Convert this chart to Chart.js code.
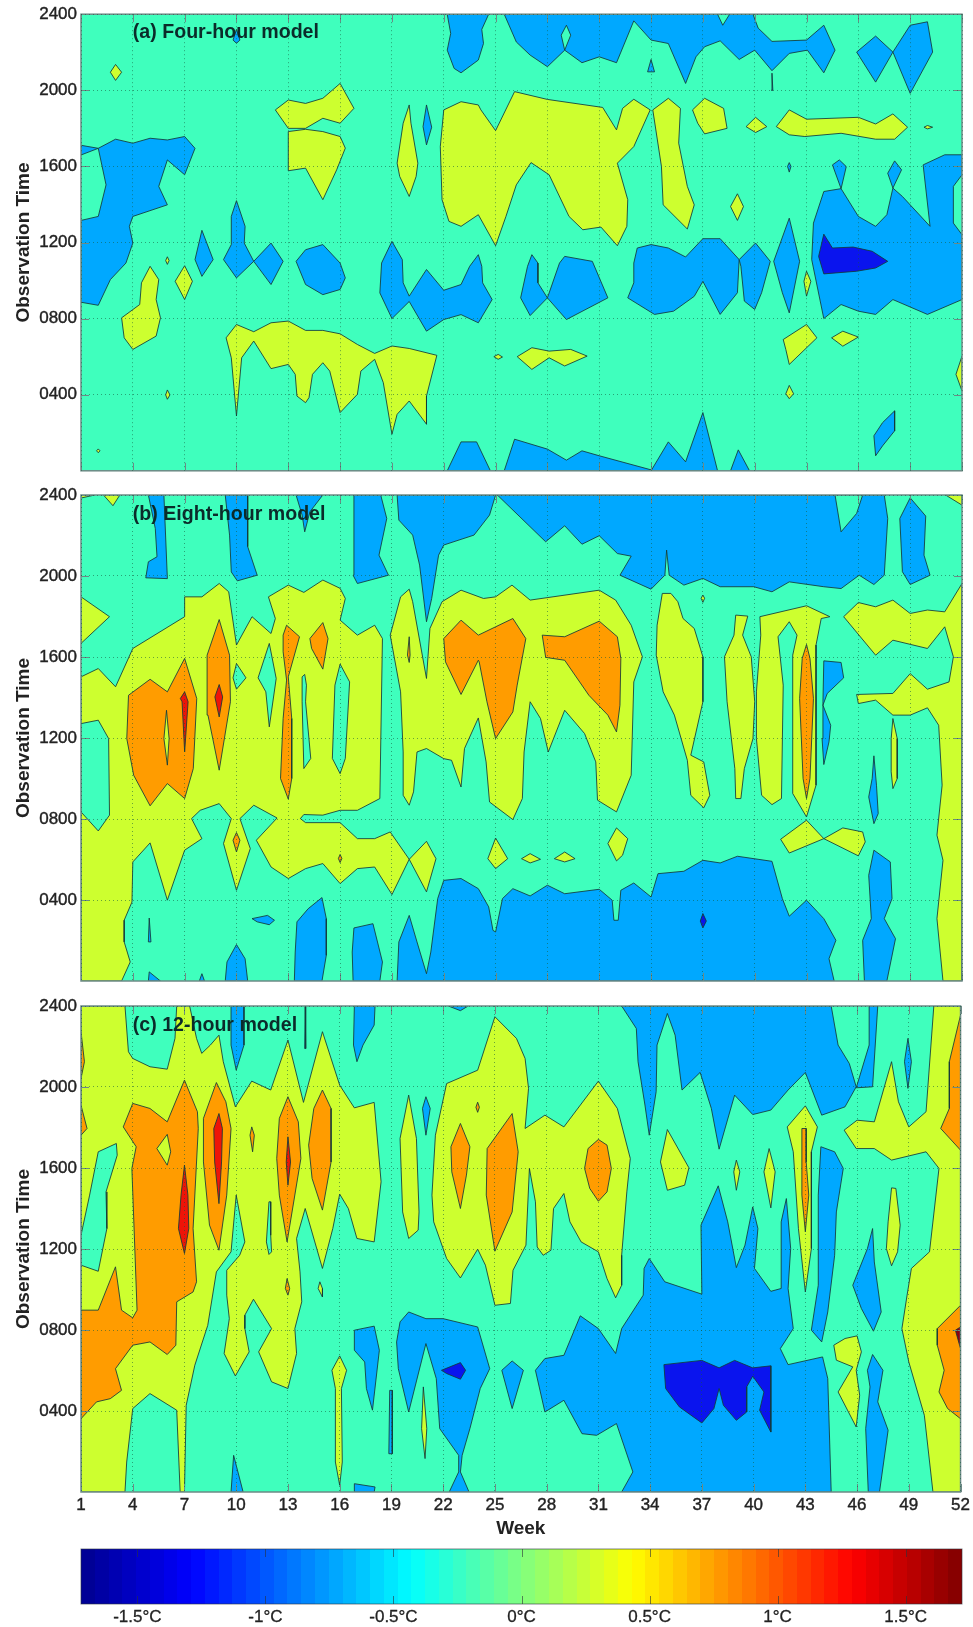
<!DOCTYPE html>
<html>
<head>
<meta charset="utf-8">
<title>Observation time by week</title>
<script src="https://cdn.jsdelivr.net/npm/chart.js@4/dist/chart.umd.js"></script>
<style>
  body { margin: 0; background: #fff; }
  #page { position: relative; width: 973px; height: 1627px; overflow: hidden; }
  canvas { position: absolute; left: 0; }
</style>
</head>
<body>
<div id="page">
  <canvas id="panelA" width="973" height="485" style="top:0"></canvas>
  <canvas id="panelB" width="973" height="518" style="top:478px"></canvas>
  <canvas id="panelC" width="973" height="550" style="top:990px"></canvas>
  <canvas id="colorBar" width="973" height="87" style="top:1540px"></canvas>
</div>
<script>
const weekTicks = [1, 4, 7, 10, 13, 16, 19, 22, 25, 28, 31, 34, 37, 40, 43, 46, 49, 52];
const timeTicks = [400, 800, 1200, 1600, 2000, 2400];
const barTicks = [-1.5, -1, -0.5, 0, 0.5, 1, 1.5];
const barRange = [-1.72, 1.72];

// contour outlines, each one flat: week, time, week, time ...
const aBlue = [
  [1,1711, 2,1695, 1,1660],
  [2,1695, 3,1743, 4,1722, 5,1748, 6,1739, 7,1757, 7.6,1695, 7,1556, 6,1634, 5.5,1495, 6,1398, 4,1337, 3.8,1285, 4,1197, 3.6,1092, 2.7,1005, 2,870, 1,886, 1,1316, 2,1337, 2.45,1503],
  [8,1264, 8.65,1110, 8,1022, 7.6,1110],
  [10,1420, 10.5,1285, 10.45,1197, 11,1101, 10,1014, 9.25,1110, 9.7,1189, 9.7,1337],
  [11,1101, 12,1197, 12.7,1101, 12,979],
  [13.45,1101, 14,1162, 15,1189, 16,1092, 16.3,1014, 16,953, 15,926, 14,979],
  [19,1206, 19.6,1110, 19.65,988, 20,918, 21,1058, 22,949, 23,979, 23.5,1075, 24,1136, 24.2,1075, 24.25,988, 24.8,900, 24,778, 23,821, 22,795, 21,734, 20,890, 19,800, 18.3,935, 18.4,1092],
  [22.2,2400, 22.4,2299, 22.2,2211, 22.6,2115, 23,2092, 24,2159, 24.3,2246, 24.2,2320, 24.6,2400],
  [25.5,2400, 26.2,2254, 27,2185, 28,2124, 29,2211, 30,2145, 31,2176, 32,2145, 33,2365, 34,2264, 35,2246, 36,2036, 36.6,2176, 37.1,2229, 38,2260, 39.1,2162, 40,2211, 41,2103, 42,2194, 43.05,2211, 44,2092, 44.65,2211, 44,2342, 43,2264, 41,2257, 40.2,2327, 39.9,2400],
  [45.9,2201, 47,2285, 48,2201, 47,2043],
  [48,2201, 49,2342, 50,2360, 50.3,2201, 49,1984],
  [34,2162, 34.2,2097, 33.8,2097],
  [41,2090, 41.05,2000, 40.97,2000],
  [45,1483, 44,1468, 43.4,1302, 43.3,1110, 44,800, 45,874, 46,839, 47,822, 48,900, 50,822, 52,900, 52,1241, 51.5,1302, 51.5,1495, 52,1556, 52,1661, 51,1661, 49.75,1608, 50.15,1285, 48.55,1442, 48,1486, 47.65,1346, 47,1285, 46,1337],
  [44.5,1608, 44.9,1634, 45.3,1599, 45,1483],
  [47.7,1564, 48.1,1629, 48.5,1582, 48,1486],
  [33,1092, 33.2,1171, 34,1189, 35,1171, 36,1124, 37,1220, 38,1220, 39.1,1110, 39,936, 38,822, 37,996, 36.5,917, 35.3,839, 34.2,822, 32.65,909, 33,988],
  [39.1,1110, 40.05,1197, 40.9,1101, 40.4,936, 40,848, 39.4,892, 39.2,1075],
  [42,1328, 42.6,1101, 42,830, 41.6,936, 41.1,1101],
  [27.1,1136, 27.45,1092, 27.45,988, 28,909, 27,816, 26.45,909, 26.85,1075],
  [28,909, 28.7,1092, 29,1127, 30.6,1101, 31.5,909, 29.1,795],
  [22.2,0, 23,152, 23.9,152, 24.7,0],
  [25.5,0, 26.1,166, 28,114, 29.1,56, 30,105, 31,79, 34,5, 34,0],
  [34,0, 35,152, 36,47, 37,306, 37.85,0],
  [38.6,0, 39.05,110, 39.7,0],
  [47,79, 46.9,184, 47.4,253, 48.1,315, 48.1,210, 47.4,131],
  [10,2320, 10.2,2264, 10,2247, 9.8,2264],
  [21,1923, 21.3,1806, 21,1713, 20.8,1809],
  [42,1620, 42.1,1600, 42,1570, 41.9,1600]
];
const aYellow = [
  [3,2136, 3.35,2095, 3,2052, 2.7,2095],
  [5,1075, 5.5,1005, 5.35,900, 5.6,804, 5.35,708, 4,638, 3.5,699, 3.35,804, 4.4,874, 4.5,988],
  [7,1078, 7.45,996, 7,900, 6.45,996],
  [9.4,699, 10,769, 11,731, 12,778, 13,787, 14,738, 15,738, 16,720, 17,664, 18,617, 19,656, 20,643, 21.6,607, 21,393, 21,245, 20,367, 19.3,297, 19,192, 18.5,463, 18,586, 17.2,524, 17,402, 16,306, 15.4,524, 15,568, 14.4,507, 14.2,385, 14,358, 13.5,393, 13.4,507, 13,559, 12,537, 11,682, 10.3,594, 10,288, 9.7,594],
  [12.25,1897, 13,1949, 14,1931, 15,1958, 16,2036, 16.8,1905, 16,1827, 15,1853, 14,1800, 13,1800],
  [13,1783, 14,1795, 15,1783, 16,1757, 16.3,1696, 15.8,1582, 15,1425, 14,1591, 13,1577],
  [20,1923, 20.1,1827, 20.5,1617, 20.4,1547, 20,1442, 19.45,1547, 19.3,1617, 19.65,1827],
  [22,1897, 23,1940, 24,1923, 24.15,1897, 25,1788, 26.1,1993, 28,1952, 31.2,1910, 32,1792, 32.35,1905, 33,1953, 33.95,1897, 33,1704, 32.05,1617, 32.65,1425, 32.6,1285, 32.05,1183, 31.1,1281, 30.05,1267, 29.25,1337, 28.1,1556, 27.05,1620, 26.2,1503, 25.6,1337, 25,1183, 24,1346, 23,1285, 22.3,1311, 21.9,1425, 21.8,1704],
  [34.1,1897, 35,1958, 35.7,1905, 35.6,1722, 36.1,1495, 36.5,1398, 36.1,1271, 34.7,1398, 34.6,1600],
  [36.4,1897, 37.1,1958, 38.2,1905, 38.4,1800, 37.1,1771, 36.7,1827],
  [39.5,1809, 40.05,1858, 40.7,1809, 40.05,1778],
  [41.25,1809, 42,1897, 43,1848, 46,1858, 47,1823, 48,1876, 48.85,1806, 48.1,1743, 47,1743, 45,1774, 42.9,1757, 42,1766],
  [49.8,1806, 50,1815, 50.3,1806, 50,1797],
  [39,1456, 39.35,1389, 39,1316, 38.6,1389],
  [41.65,690, 43,769, 43.6,699, 42,559, 41.8,638],
  [44.45,699, 45.1,734, 46,703, 45.1,655],
  [41.8,405, 42,449, 42.25,405, 42,379],
  [26.25,600, 27.1,647, 28.1,629, 29.35,638, 30.3,603, 29,551, 28.1,594, 27.1,533],
  [24.9,600, 25.15,612, 25.4,598, 25.15,586],
  [52,603, 51.65,507, 52,420],
  [43,1049, 43.25,996, 43,918, 42.85,996],
  [6,425, 6.15,399, 6,376, 5.9,399],
  [6,1125, 6.1,1105, 6,1085, 5.9,1105],
  [2,115, 2.1,105, 2,95, 1.9,105]
];
const aGreen = [
  [37.85,2400, 38.15,2342, 38.55,2400],
  [29.1,2342, 29.35,2290, 29,2211, 28.8,2290]
];
const aDeep = [
  [44,1244, 44.5,1171, 45.7,1176, 46.8,1154, 47.7,1101, 47,1066, 45.9,1049, 44,1035, 43.7,1127]
];

const bBlue = [
  [4.9,2400, 5.8,2400, 6,1987, 4.75,1991, 4.9,2070, 5.4,2095, 5.3,2235],
  [9.35,2400, 10.65,2400, 10.65,2145, 11.2,2004, 10.05,1976, 9.7,2020, 9.6,2202],
  [13.45,2400, 15,2400, 14.25,2317, 13.95,2218, 13.8,2301],
  [16.8,2400, 18.35,2400, 18.7,2284, 18.25,2103, 18.8,2004, 17,1963, 16.75,2004],
  [19.3,2400, 19.4,2276, 20.2,2202, 20.6,2054, 21,1774, 21.3,1889, 21.7,2103, 22,2153, 23.75,2202, 24.65,2301, 25,2400],
  [25.1,2400, 27.9,2169, 29,2248, 30,2157, 31,2199, 32.05,2111, 32.85,2098, 32.2,2004, 34,1935, 34.8,2004, 34.9,2128, 35.05,2004, 35.9,1955, 37,1988, 38,1947, 39.95,1947, 41,1922, 42,1971, 44,1947, 45,1938, 46.05,2004, 46.9,1958, 47.5,2004, 47.7,2284, 47.5,2400],
  [49,2386, 49.9,2296, 49.8,2103, 50.15,2004, 49,1958, 48.55,2021, 48.4,2284],
  [44,1581, 45,1573, 45.15,1497, 44.2,1420, 43.95,1362, 44.4,1263, 44.3,1181, 44,1069, 43.9,1197, 43.95,1379],
  [46.9,1112, 47.05,967, 47.15,827, 46.9,777, 46.6,909, 46.8,1000],
  [19.3,0, 19.4,193, 20,324, 20.45,193, 21,36, 21.25,143, 21.65,407, 22,497, 23,506, 24,456, 24.6,366, 24.85,250, 25,242, 25.4,407, 26,456, 27,420, 28,473, 29,431, 31,453, 31.75,399, 31.85,300, 32.1,300, 32.25,448, 33,484, 34,415, 34.4,530, 35.9,542, 37,596, 38,583, 39,616, 41,591, 41.6,407, 42,320, 43,399, 44,308, 44.7,201, 44.3,110, 44.6,0],
  [16.8,262, 17.9,283, 18.45,94, 18.3,0, 16.75,0, 16.7,143],
  [13.5,292, 14.15,357, 14.95,412, 15.2,308, 15.2,127, 14.95,0, 13.35,0, 13.4,143],
  [10,180, 10.5,110, 10.65,0, 9.35,0, 9.45,94],
  [10.9,308, 11.8,324, 12.2,300, 11.9,278, 11.2,292],
  [4.95,311, 5.05,193, 4.9,193],
  [4.95,45, 5.6,0, 4.9,0],
  [8,36, 8.15,0, 7.85,0],
  [46.9,646, 47.85,588, 47.95,407, 47.5,308, 48.15,209, 47.65,0, 46.35,0, 46.25,201, 46.75,308, 46.6,522]
];
const bYellow = [
  [1,1502, 2,1543, 3,1453, 4,1642, 7,1799, 7,1897, 8,1897, 9,1963, 9.55,1922, 10,1659, 10.9,1799, 12,1716, 12.25,1790, 11.85,1897, 13,1955, 13.9,1919, 15,1980, 16,1939, 16.3,1889, 16,1782, 17,1708, 18,1757, 18.45,1691, 18.3,901, 17,843, 16,843, 15,819, 13.9,822, 13.7,802, 14,782, 16,782, 17,703, 18,703, 18.9,736, 20,601, 21,690, 21.55,604, 21,440, 20,601, 19,427, 18,563, 17,555, 16,481, 15,580, 14,555, 13,506, 12,563, 11.15,695, 12.35,805, 11,868, 10.2,802, 10.8,654, 10,448, 9.25,679, 9.7,802, 9,876, 7.9,843, 7.4,802, 8,703, 7,646, 6,399, 5,682, 4,588, 3.95,390, 3.5,300, 3.5,193, 3.85,94, 3.35,0, 1,0],
  [1,1897, 2.65,1799, 1,1667],
  [2.3,2400, 2.85,2347, 3.25,2400],
  [1,2385, 1.8,2400, 1,2400],
  [18.9,1708, 19.5,1897, 20,1935, 20.2,1873, 21,1494, 21.2,1741, 21.9,1873, 23,1930, 24.3,1889, 25,1897, 25.95,1955, 27,1881, 31,1930, 31.95,1881, 32.85,1757, 33.5,1601, 33,1477, 32.85,1016, 32,835, 30.9,893, 30.8,1082, 30.15,1222, 29,1337, 28.05,1131, 27.6,1296, 27,1379, 26.65,1131, 26.55,901, 26,797, 24.65,884, 24.45,1082, 24,1299, 23.2,1148, 23,958, 22.45,1090, 22,1098, 21,1148, 20.45,1131, 20.25,934, 20,868, 19.65,917, 19.65,1131, 19.5,1428],
  [34.65,1914, 35.15,1914, 35.55,1873, 35.85,1790, 36.5,1741, 37,1601, 37,1379, 36.3,1115, 37.05,1082, 37.4,917, 37.05,855, 36.3,917, 36.1,1090, 35.35,1313, 34.7,1428, 34.3,1609, 34.35,1757],
  [38.9,1807, 39.6,1802, 39.3,1708, 39.8,1601, 40,1379, 39.9,1197, 39.4,1049, 39.2,901, 38.9,901, 38.85,1049, 38.4,1379, 38.25,1601, 38.8,1708],
  [40.3,1799, 43,1853, 44.35,1799, 43.85,1790, 43.55,1659, 43.55,967, 43,810, 42.2,926, 42.2,1609, 42.45,1708, 42,1774, 41.35,1700, 41.65,1461, 41.55,901, 41,871, 40.4,917, 40.1,1197, 40.1,1428, 40.35,1708],
  [41.5,700, 43,794, 44,703, 42,632],
  [44,703, 45.1,756, 46.25,736, 46.4,687, 46,618],
  [25,706, 25.7,604, 25,555, 24.55,604],
  [26.5,604, 27,629, 27.6,601, 27,583],
  [28.4,604, 29,637, 29.6,604, 29,588],
  [32,756, 32.65,703, 32.35,621, 32,593, 31.5,679],
  [45.15,1799, 46,1869, 47,1848, 48,1881, 49,1815, 50,1832, 51,1823, 52,1963, 52,0, 50.9,0, 50.55,308, 50.9,596, 50.55,720, 50.85,967, 50.65,1263, 50,1349, 49,1313, 48,1313, 47,1387, 46,1370, 45.9,1415, 48,1420, 49,1518, 50,1441, 51.25,1477, 51.5,1601, 51,1749, 50,1642, 48,1683, 47,1609],
  [51.05,2400, 52,2350, 52,2400],
  [48,1296, 48.25,1197, 48.25,1000, 48,950, 47.9,1033, 47.9,1197],
  [37,1906, 37.1,1890, 37,1870, 36.9,1890]
];
const bGreen = [
  [1,1271, 2,1288, 2.6,1197, 2.65,819, 2,741, 1,835],
  [10,1568, 10.55,1497, 10,1441, 9.8,1497],
  [11.9,1667, 12.3,1494, 11.9,1255, 11.7,1428, 11.25,1497],
  [13.95,1514, 14.05,1461, 14,1379, 14.3,1099, 13.9,1049, 13.8,1379, 13.8,1502],
  [16,1565, 16.55,1477, 16.3,1099, 16,1024, 15.55,1099, 15.7,1461],
  [44.65,2400, 45,2218, 45.9,2309, 46.25,2400]
];
const bOrange = [
  [3.75,1411, 5,1490, 6,1428, 7,1593, 7.7,1395, 7.5,1049, 7,901, 6,975, 5,865, 4.05,1016, 3.65,1197],
  [9,1785, 9.6,1609, 9.65,1379, 9,1041, 8.35,1313, 8.3,1609],
  [10,733, 10.2,695, 10,637, 9.8,695],
  [12.9,1757, 13.65,1700, 13,1502, 13.2,1296, 13.2,1000, 13,898, 12.55,1000, 12.7,1296, 12.9,1486, 12.7,1626, 12.7,1708],
  [15,1770, 15.3,1691, 15,1540, 14.35,1642, 14.25,1691],
  [22,1691, 23,1782, 24,1708, 25,1749, 26,1790, 26.75,1691, 26.25,1461, 26,1329, 25,1197, 24.5,1379, 24.05,1576, 24,1584, 23,1415, 22.1,1576],
  [27.7,1708, 29,1700, 31,1777, 32.05,1700, 32.25,1593, 32.2,1362, 32,1230, 31.5,1313, 30.4,1411, 29,1584, 27.9,1598],
  [43,1662, 43.2,1593, 43.4,1395, 43.2,1000, 43,901, 42.8,1000, 42.6,1395, 42.75,1593],
  [20,1700, 20.05,1610, 20,1573, 19.9,1610],
  [16,625, 16.1,605, 16,585, 15.9,605]
];
const bYellowTop = [
  [5.95,1337, 6.1,1197, 6,1066, 5.8,1197]
];
const bRed = [
  [7,1428, 7.2,1379, 7,1131, 6.85,1379, 6.75,1395],
  [9,1464, 9.2,1403, 9,1304, 8.75,1403]
];
const bDeep = [
  [37,333, 37.2,296, 37,262, 36.85,296]
];

const cBlue = [
  [9.7,2400, 10.45,2400, 10.45,2207, 10,2083, 9.7,2207],
  [16.85,2400, 18.05,2400, 18,2306, 17.35,2207, 17,2125, 16.8,2207],
  [22.3,2400, 23.45,2400, 23,2377],
  [21,1952, 21.25,1894, 21,1762, 20.8,1894],
  [16.85,799, 18,819, 18.3,700, 17.9,404, 17.55,511, 17.45,642, 16.85,700],
  [20,889, 21,856, 22,856, 24,815, 24.7,609, 24.15,511, 23.55,313, 23.1,181, 23,99, 23.5,0, 22.35,0, 22.9,99, 22.9,181, 21.8,313, 21.6,560, 21,733, 20,395, 19.4,609, 19.3,741, 19.5,840],
  [18.9,502, 19.05,502, 19.05,189, 18.85,189],
  [9.85,181, 10.4,0, 9.7,0],
  [16.85,41, 18.05,25, 18,0, 16.85,0],
  [14,2400, 14.03,2190, 13.97,2190],
  [32.35,2400, 33.2,2289, 33.3,2125, 33.7,1911, 33.95,1762, 34.35,1977, 34.4,2207, 35,2363, 35.45,2256, 35.85,1985, 36.9,2072, 37.55,1894, 38,1693, 38.9,1960, 39.95,1864, 41,1886, 42,1985, 43,2072, 43.95,1861, 45.3,1902, 45.95,2001, 45.55,2116, 44.9,2207, 44.5,2400],
  [46.7,2400, 47.2,2400, 46.9,2001, 45.95,1996, 46.7,2207],
  [48.95,2240, 49.15,2125, 48.95,1993, 48.75,2125],
  [32.35,0, 33,99, 32.05,338, 30.9,280, 30.05,288, 29,453, 27.9,395, 27.35,601, 27.9,659, 29,675, 29.95,870, 31,807, 32,684, 32.35,807, 33.6,972, 33.65,1104, 33.95,1153, 34.85,1038, 37,977, 36.95,1318, 37.95,1512, 38.5,1334, 39,1108, 39.5,1219, 39.95,1408, 40.25,1301, 40.05,1104, 41,991, 41.6,1005, 41.6,1334, 41.9,1449, 42.15,1202, 42,1005, 42.3,807, 41.55,708, 42,629, 44,667, 44.3,560, 44.5,0],
  [25.4,601, 26,647, 26.65,601, 26,412],
  [43.9,1705, 44.7,1680, 45.2,1598, 44.8,1383, 44.7,1169, 44.3,889, 43.95,741, 43.35,799, 43.75,1021, 43.75,1466],
  [46.9,1301, 47,1136, 47.4,889, 46.95,794, 46.25,906, 45.75,1021, 46.6,1202],
  [46.9,679, 47.5,601, 47.2,445, 47.8,305, 47.3,0, 46.65,0, 46.5,313, 46.75,519, 46.6,601]
];
const cYellow = [
  [1,2400, 3.55,2400, 3.75,2174, 4,2141, 5,2100, 6,2088, 6.45,2240, 6.55,2400, 7.3,2400, 7.7,2240, 8,2166, 8.5,2207, 9,2256, 9.25,2125, 9.95,1902, 10.9,2029, 12,1985, 13,2232, 13.9,1924, 15,2273, 16,2009, 16.85,1897, 18,1924, 18.4,1532, 18,1235, 17,1252, 16.5,1400, 16,1471, 15.6,1301, 15,1104, 14,1400, 13.5,1252, 13.7,1087, 13.8,939, 13.4,807, 13.5,684, 13,511, 12.05,544, 11.3,692, 12.05,807, 11,952, 10.5,873, 10.5,807, 10.75,692, 9.95,573, 9.3,684, 9.6,856, 9.45,972, 9.45,1095, 10.2,1169, 10.5,1235, 10,1466, 9.7,1186, 8.85,1087, 8.35,823, 7.6,626, 7.1,428, 7,0, 6.75,0, 6.55,404, 5,486, 4,412, 3.65,148, 3.55,0, 1,0],
  [20,1960, 20.45,1746, 20.6,1383, 20.55,1293, 20,1252, 19.65,1383, 19.5,1746],
  [16,672, 16.4,601, 16.1,511, 16.15,148, 16,33, 15.75,148, 15.75,511, 15.55,601],
  [20.85,519, 21.05,313, 20.95,165, 20.75,313],
  [22.2,2017, 24,2083, 25,2347, 26.25,2240, 26.75,2141, 26.95,1993, 26.75,1795, 27.9,1861, 29,1803, 31,2029, 32.1,1894, 32.85,1647, 32.65,1482, 32.35,1169, 32.35,1021, 32,959, 31.5,1054, 31,1186, 30,1235, 29.35,1334, 29,1474, 28.4,1400, 28.25,1194, 27.8,1169, 27.45,1210, 27.35,1433, 27,1598, 26.8,1219, 26.05,1095, 25.9,931, 25,922, 24.45,1120, 24,1199, 23,1057, 22.2,1153, 21.45,1334, 21.35,1466, 21.55,1762],
  [35,1790, 36.25,1601, 36,1515, 35,1490, 34.6,1630],
  [39,1639, 39.2,1581, 39,1490, 38.85,1581],
  [40.9,1696, 41.25,1581, 41,1403, 40.6,1581],
  [43,1907, 43.7,1803, 43.35,1680, 43.35,1202, 43,988, 42.6,1301, 42.3,1680, 41.95,1803],
  [45.25,1787, 46,1836, 47,1828, 48,2125, 48.4,1927, 49,1803, 50,1878, 50.45,2400, 52,2400, 52,0, 50.4,0, 49.9,379, 49,642, 48.6,807, 48.9,972, 49.15,1104, 50.2,1186, 50.75,1598, 50,1680, 48,1639, 47,1696, 45.95,1696],
  [44.65,725, 45.3,758, 46,771, 46.25,692, 45.95,601, 46.15,478, 45.95,321, 44.9,494, 45.75,618, 44.8,651],
  [48,1502, 48.25,1499, 48.5,1318, 48.35,1186, 48,1117, 47.7,1202, 47.8,1334]
];
const cGreen = [
  [1,1268, 1.5,1466, 2,1680, 3.05,1721, 3.1,1663, 2.45,1482, 2.5,1301, 2,1090, 1,1120],
  [12,1433, 12,1268, 12.05,1186, 11.9,1173, 11.75,1235, 11.9,1433]
];
const cOrange = [
  [1,898, 2,898, 3,1112, 3.35,898, 4,860, 4.25,898, 3.95,1598, 4.2,1705, 3.45,1803, 4,1919, 5,1894, 6,1828, 7,2034, 7.75,1878, 7.8,1795, 7.5,1301, 7.7,1038, 7.5,988, 6.55,939, 6.5,725, 6,679, 5,741, 4,725, 3,609, 3.35,502, 2.7,461, 1.9,445, 1,362],
  [1,2273, 1.2,2125, 1,2042],
  [1,1910, 1.35,1795, 1,1762],
  [8.85,2022, 9.4,1927, 9.7,1795, 9.45,1466, 9,1194, 8.45,1318, 8.1,1630, 8.1,1845],
  [13,1952, 13.6,1828, 13.75,1647, 12.95,1235, 12.5,1466, 12.35,1647, 12.5,1845],
  [12.95,1054, 13.1,1005, 13,972, 12.85,1005],
  [15,1985, 15.5,1894, 15.5,1630, 15,1392, 14.4,1548, 14.2,1713, 14.5,1894],
  [10.9,1803, 11.05,1762, 10.95,1680, 10.8,1762],
  [23,1820, 23.55,1705, 23.35,1565, 23,1400, 22.5,1581, 22.45,1705],
  [26,1869, 26.35,1680, 26,1383, 25,1189, 24.5,1466, 24.55,1696],
  [31,1741, 31.5,1713, 31.75,1598, 31.5,1482, 31,1436, 30.5,1499, 30.2,1598, 30.4,1696],
  [42.8,1795, 43.05,1795, 43.05,1630, 43.2,1466, 43,1285, 42.8,1466, 42.8,1713],
  [52,2355, 51.35,2125, 51.35,1894, 50.85,1795, 52,1688],
  [52,922, 50.65,807, 50.65,725, 51.05,601, 50.75,494, 51.25,412, 52,362],
  [24,1925, 24.1,1900, 24,1875, 23.9,1900]
];
const cYellowTop = [
  [6,1766, 6.2,1680, 6,1614, 5.4,1696],
  [14.85,1038, 15,1005, 15,963, 14.75,1005]
];
const cRed = [
  [7,1614, 7.2,1466, 7.25,1301, 7,1178, 6.65,1301, 6.8,1466],
  [9,1869, 9.2,1795, 9.15,1630, 9,1424, 8.75,1630, 8.7,1795],
  [13,1754, 13.15,1630, 13,1515, 12.9,1630]
];
const cDarkRed = [
  [51.7,799, 52,815, 52,708]
];
const cDeep = [
  [21.9,601, 23,639, 23.3,601, 23,557, 22.2,585],
  [34.8,629, 37,650, 38,613, 38.9,650, 39.95,613, 41,623, 41,296, 40.35,404, 40.6,494, 39.95,572, 39.6,519, 39.6,395, 39,354, 38.25,428, 38,511, 37.7,412, 37,341, 35.7,420, 34.9,511]
];

const levelColors = {
  green: '#3fffbd', blue: '#00a8ff', deep: '#0a14ee', yellow: '#cdff2f',
  orange: '#ff9c00', red: '#ee1408', darkRed: '#8c0012'
};
const barStops = [[0, [0, 0, 143]], [0.125, [0, 0, 255]], [0.375, [0, 255, 255]], [0.625, [255, 255, 0]], [0.875, [255, 0, 0]], [1, [128, 0, 0]]];

function toDatasets(layers) {
  const sets = [];
  layers.forEach(([polys, level]) => {
    polys.forEach(flat => {
      const pts = [];
      for (let i = 0; i < flat.length; i += 2) pts.push({ x: flat[i], y: flat[i + 1] });
      pts.push({ x: flat[0], y: flat[1] });
      sets.push({
        data: pts, showLine: true, fill: 'shape', tension: 0,
        backgroundColor: levelColors[level], borderColor: 'rgba(20,56,58,0.85)', borderWidth: 1,
        pointRadius: 0, pointHoverRadius: 0
      });
    });
  });
  // chart.js paints the first dataset last
  return sets.reverse();
}

const frameColor = '#6d8a86';
const textColor = '#222';
const tickFont = { family: '"Liberation Sans"', size: 17 };

// green ground under the contours, frame and inward ticks over them, panel caption
const panelDecor = {
  id: 'panelDecor',
  beforeDatasetsDraw(chart) {
    const a = chart.chartArea, c = chart.ctx;
    c.fillStyle = levelColors.green;
    c.fillRect(a.left, a.top, a.width, a.height);
  },
  afterDatasetsDraw(chart, args, opts) {
    const a = chart.chartArea, c = chart.ctx, x = chart.scales.x, y = chart.scales.y;
    c.save();
    c.strokeStyle = frameColor;
    c.lineWidth = 1;
    c.beginPath();
    weekTicks.forEach(w => {
      const px = Math.round(x.getPixelForValue(w)) + 0.5;
      c.moveTo(px, a.top); c.lineTo(px, a.top + 8);
      c.moveTo(px, a.bottom); c.lineTo(px, a.bottom - 8);
    });
    timeTicks.forEach(t => {
      const py = Math.round(y.getPixelForValue(t)) + 0.5;
      c.moveTo(a.left, py); c.lineTo(a.left + 8, py);
      c.moveTo(a.right, py); c.lineTo(a.right - 8, py);
    });
    c.stroke();
    c.lineWidth = 1.5;
    c.strokeRect(a.left, a.top, a.width, a.height);
    c.fillStyle = '#0b2b2a';
    c.font = 'bold 19.6px "Liberation Sans"';
    c.textBaseline = 'middle';
    c.fillText(opts.caption, x.getPixelForValue(4), y.getPixelForValue(2305));
    c.restore();
  }
};

function makePanel(id, caption, layers, pad, lastPanel) {
  return new Chart(document.getElementById(id), {
    type: 'scatter',
    data: { datasets: toDatasets(layers) },
    plugins: [panelDecor],
    options: {
      responsive: false,
      animation: false,
      events: [],
      layout: { padding: { top: pad[0], right: 11, bottom: pad[1], left: 0 } },
      plugins: {
        legend: { display: false },
        tooltip: { enabled: false },
        panelDecor: { caption: caption }
      },
      scales: {
        x: {
          type: 'linear', min: 1, max: 52,
          afterBuildTicks: s => { s.ticks = weekTicks.map(v => ({ value: v })); },
          afterFit: s => { s.height = lastPanel ? 48 : 0; },
          grid: { color: 'rgba(20,90,60,0.55)', z: 1, drawTicks: false },
          border: { display: false, dash: [1, 3] },
          ticks: {
            display: lastPanel, autoSkip: false, maxRotation: 0, padding: 3,
            color: textColor, font: tickFont, textStrokeColor: textColor, textStrokeWidth: 0.4
          },
          title: {
            display: lastPanel, text: 'Week', color: textColor, padding: { top: 2, bottom: 0 },
            font: { family: '"Liberation Sans"', size: 19, weight: 'bold' }
          }
        },
        y: {
          min: 0, max: 2400,
          afterBuildTicks: s => { s.ticks = timeTicks.map(v => ({ value: v })); },
          afterFit: s => { s.width = 81; },
          grid: { color: 'rgba(20,90,60,0.55)', z: 1, drawTicks: false },
          border: { display: false, dash: [1, 3] },
          ticks: {
            autoSkip: false, padding: 4, color: textColor, font: tickFont,
            textStrokeColor: textColor, textStrokeWidth: 0.4,
            callback: v => String(v).padStart(4, '0')
          },
          title: {
            display: true, text: 'Observation Time', color: textColor, padding: { top: 12, bottom: 0 },
            font: { family: '"Liberation Sans"', size: 19, weight: 'bold' }
          }
        }
      }
    }
  });
}

makePanel('panelA', '(a) Four-hour model', [
  [aBlue, 'blue'], [aYellow, 'yellow'], [aGreen, 'green'], [aDeep, 'deep']
], [14, 13], false);

makePanel('panelB', '(b) Eight-hour model', [
  [bBlue, 'blue'], [bYellow, 'yellow'], [bGreen, 'green'], [bOrange, 'orange'],
  [bYellowTop, 'yellow'], [bRed, 'red'], [bDeep, 'deep']
], [17, 15], false);

makePanel('panelC', '(c) 12-hour model', [
  [cBlue, 'blue'], [cYellow, 'yellow'], [cGreen, 'green'], [cOrange, 'orange'],
  [cYellowTop, 'yellow'], [cRed, 'red'], [cDarkRed, 'darkRed'], [cDeep, 'deep']
], [16, 0], true);

// 64 flat bands like the jet colormap of the original
function barGradient(chart) {
  const a = chart.chartArea;
  if (!a) return '#888';
  const g = chart.ctx.createLinearGradient(a.left, 0, a.right, 0);
  for (let i = 0; i < 64; i++) {
    const t = (i + 0.5) / 64;
    let k = 0;
    while (t > barStops[k + 1][0]) k++;
    const [t0, c0] = barStops[k], [t1, c1] = barStops[k + 1];
    const rgb = c0.map((v, j) => Math.round(v + (c1[j] - v) * (t - t0) / (t1 - t0)));
    const css = 'rgb(' + rgb.join(',') + ')';
    g.addColorStop(i / 64, css);
    g.addColorStop((i + 1) / 64, css);
  }
  return g;
}

new Chart(document.getElementById('colorBar'), {
  type: 'bar',
  data: {
    labels: ['scale'],
    datasets: [{ data: [barRange], backgroundColor: ctx => barGradient(ctx.chart), barPercentage: 1, categoryPercentage: 1 }]
  },
  plugins: [{
    id: 'barFrame',
    afterDatasetsDraw(chart) {
      const a = chart.chartArea, c = chart.ctx, x = chart.scales.x;
      c.save();
      c.strokeStyle = 'rgba(40,50,60,0.6)';
      c.lineWidth = 1;
      c.beginPath();
      barTicks.forEach(v => {
        const px = Math.round(x.getPixelForValue(v)) + 0.5;
        c.moveTo(px, a.top); c.lineTo(px, a.top + 8);
        c.moveTo(px, a.bottom); c.lineTo(px, a.bottom - 8);
      });
      c.stroke();
      c.strokeRect(a.left, a.top, a.width, a.height);
      c.restore();
    }
  }],
  options: {
    indexAxis: 'y',
    responsive: false,
    animation: false,
    events: [],
    layout: { padding: { top: 9, right: 11, bottom: 0, left: 81 } },
    plugins: { legend: { display: false }, tooltip: { enabled: false } },
    scales: {
      y: { display: false },
      x: {
        type: 'linear', min: barRange[0], max: barRange[1],
        afterBuildTicks: s => { s.ticks = barTicks.map(v => ({ value: v })); },
        afterFit: s => { s.height = 23; },
        grid: { display: false, drawTicks: false },
        border: { display: false },
        ticks: {
          autoSkip: false, maxRotation: 0, padding: 3, color: textColor, font: tickFont,
          textStrokeColor: textColor, textStrokeWidth: 0.3,
          callback: v => v + '°C'
        }
      }
    }
  }
});
</script>
</body>
</html>
